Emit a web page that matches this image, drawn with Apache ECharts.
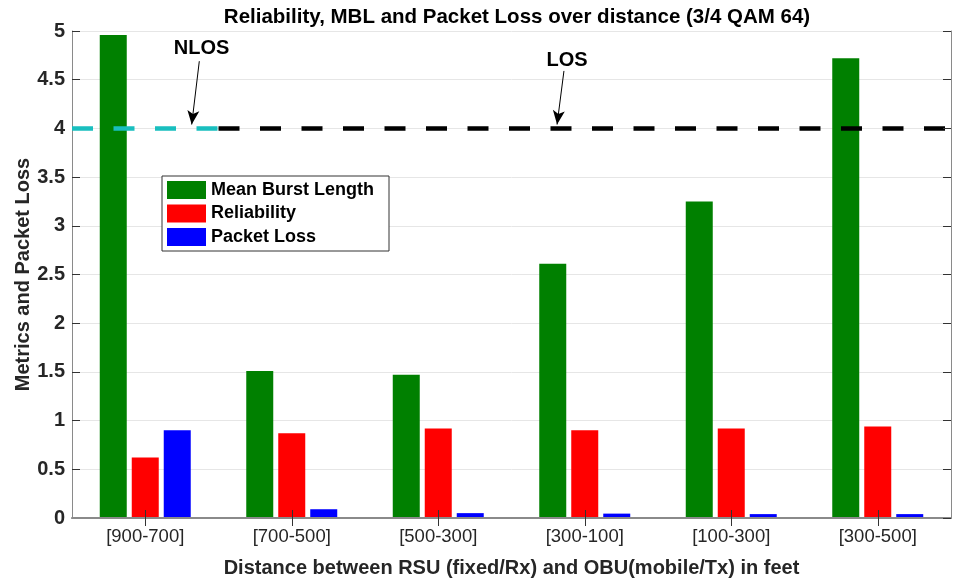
<!DOCTYPE html>
<html>
<head>
<meta charset="utf-8">
<script src="https://cdn.jsdelivr.net/npm/echarts@6/dist/echarts.min.js"></script>
<style>
html,body{margin:0;padding:0;background:#fff;}
#c{width:957px;height:580px;}
</style>
</head>
<body>
<div id="c"></div>
<script>
const categories = ['[900-700]', '[700-500]', '[500-300]', '[300-100]', '[100-300]', '[300-500]'];
const mbl = [4.96, 1.51, 1.47, 2.61, 3.25, 4.72];
const reliability = [0.62, 0.87, 0.92, 0.90, 0.92, 0.94];
const packetLoss = [0.90, 0.09, 0.05, 0.045, 0.04, 0.04];
const yTicks = [0, 5, 0.5];
const nlosLine = [[0, 4], [1, 4]];
const losLine = [[1, 4], [6, 4]];
const labelNames = ['NLOS', 'LOS'];
const labelPos = [[0.884, 4.82], [3.379, 4.70]];
const arrows = [[[0.869, 4.69], [0.817, 4.04]], [[3.358, 4.59], [3.311, 4.04]]];

const chart = echarts.init(document.getElementById('c'), null, {renderer: 'canvas'});
const FONT = 'Liberation Sans';
const AXC = '#8a8a8a';
const TICKC = '#333';

const option = {
  backgroundColor: '#fff',
  animation: false,
  title: {
    text: 'Reliability, MBL and Packet Loss over distance (3/4 QAM 64)',
    left: 512, top: 2, textAlign: 'center',
    textStyle: {fontFamily: FONT, fontSize: 20.5, fontWeight: 'bold', color: '#000'}
  },
  legend: {
    orient: 'vertical', left: 162, top: 176,
    itemWidth: 39, itemHeight: 18, itemGap: 5.5,
    padding: [5, 15, 5, 5],
    borderColor: '#333', borderWidth: 1, backgroundColor: '#fff',
    data: ['Mean Burst Length', 'Reliability', 'Packet Loss'],
    textStyle: {fontFamily: FONT, fontSize: 18, fontWeight: 'bold', color: '#000'},
    icon: 'rect'
  },
  grid: {left: 72, right: 6, top: 31, bottom: 62, containLabel: false, outerBoundsMode: 'none'},
  xAxis: [
    {
      type: 'category', data: categories, position: 'bottom', z: 5,
      name: 'Distance between RSU (fixed/Rx) and OBU(mobile/Tx) in feet',
      nameLocation: 'middle', nameGap: 40, nameMoveOverlap: false,
      nameTextStyle: {fontFamily: FONT, fontSize: 20, fontWeight: 'bold', color: '#262626'},
      axisLine: {show: true, lineStyle: {color: AXC, width: 2}},
      axisTick: {show: true, inside: true, alignWithLabel: true, length: 8, lineStyle: {color: TICKC}},
      axisLabel: {fontFamily: FONT, fontSize: 18.5, color: '#262626', margin: 9},
      splitLine: {show: false}
    },
    {
      type: 'category', data: categories, position: 'top', z: 5,
      axisLine: {show: true, lineStyle: {color: AXC, width: 1}},
      axisTick: {show: true, inside: true, alignWithLabel: true, length: 8, lineStyle: {color: TICKC}},
      axisLabel: {show: false},
      splitLine: {show: false}
    },
    {
      type: 'value', min: 0, max: 6, show: false
    }
  ],
  yAxis: [
    {
      type: 'value', min: yTicks[0], max: yTicks[1], interval: yTicks[2], position: 'left',
      name: 'Metrics and Packet Loss', nameLocation: 'middle', nameGap: 39, nameRotate: 90,
      nameMoveOverlap: false,
      nameTextStyle: {fontFamily: FONT, fontSize: 20, fontWeight: 'bold', color: '#262626'},
      axisLine: {show: true, lineStyle: {color: AXC, width: 1}},
      axisTick: {show: true, inside: true, length: 8, lineStyle: {color: TICKC}},
      axisLabel: {fontFamily: FONT, fontSize: 20, fontWeight: 'bold', color: '#262626', margin: 7},
      splitLine: {show: true, lineStyle: {color: '#e6e6e6', width: 1}}
    },
    {
      type: 'value', min: yTicks[0], max: yTicks[1], interval: yTicks[2], position: 'right', z: 5,
      axisLine: {show: true, lineStyle: {color: AXC, width: 1}},
      axisTick: {show: true, inside: true, length: 8, lineStyle: {color: TICKC}},
      axisLabel: {show: false},
      splitLine: {show: false}
    }
  ],
  series: [
    {name: 'Mean Burst Length', type: 'bar', data: mbl, barWidth: 27, barGap: '18.5%',
     itemStyle: {color: '#008000'}, z: 2},
    {name: 'Reliability', type: 'bar', data: reliability, barWidth: 27, barGap: '18.5%',
     itemStyle: {color: '#ff0000'}, z: 2},
    {name: 'Packet Loss', type: 'bar', data: packetLoss, barWidth: 27, barGap: '18.5%',
     itemStyle: {color: '#0000ff'}, z: 2},
    {name: 'nlos', type: 'line', xAxisIndex: 2, yAxisIndex: 0, data: nlosLine, symbol: 'none', z: 4,
     lineStyle: {color: '#19bfbf', width: 4.5, type: [21, 20.5], cap: 'butt'}},
    {name: 'los', type: 'line', xAxisIndex: 2, yAxisIndex: 0, data: losLine, symbol: 'none', z: 4,
     lineStyle: {color: '#000', width: 4.5, type: [21, 20.5], cap: 'butt'}},
    {name: 'labels', type: 'scatter', xAxisIndex: 2, yAxisIndex: 0, symbolSize: 0, z: 6,
     data: labelPos.map((p, i) => ({name: labelNames[i], value: p})),
     label: {show: true, position: 'inside', formatter: '{b}', fontFamily: FONT, fontSize: 20,
             fontWeight: 'bold', color: '#000', textBorderWidth: 0, opacity: 1},
     emphasis: {disabled: true},
     markLine: {
       silent: true, symbol: ['none', 'arrow'], symbolSize: [9, 14], animation: false,
       label: {show: false},
       lineStyle: {color: '#000', width: 1, type: 'solid', opacity: 1},
       data: arrows.map(a => [{coord: a[0]}, {coord: a[1]}])
     }}
  ]
};
chart.setOption(option);
</script>
</body>
</html>
